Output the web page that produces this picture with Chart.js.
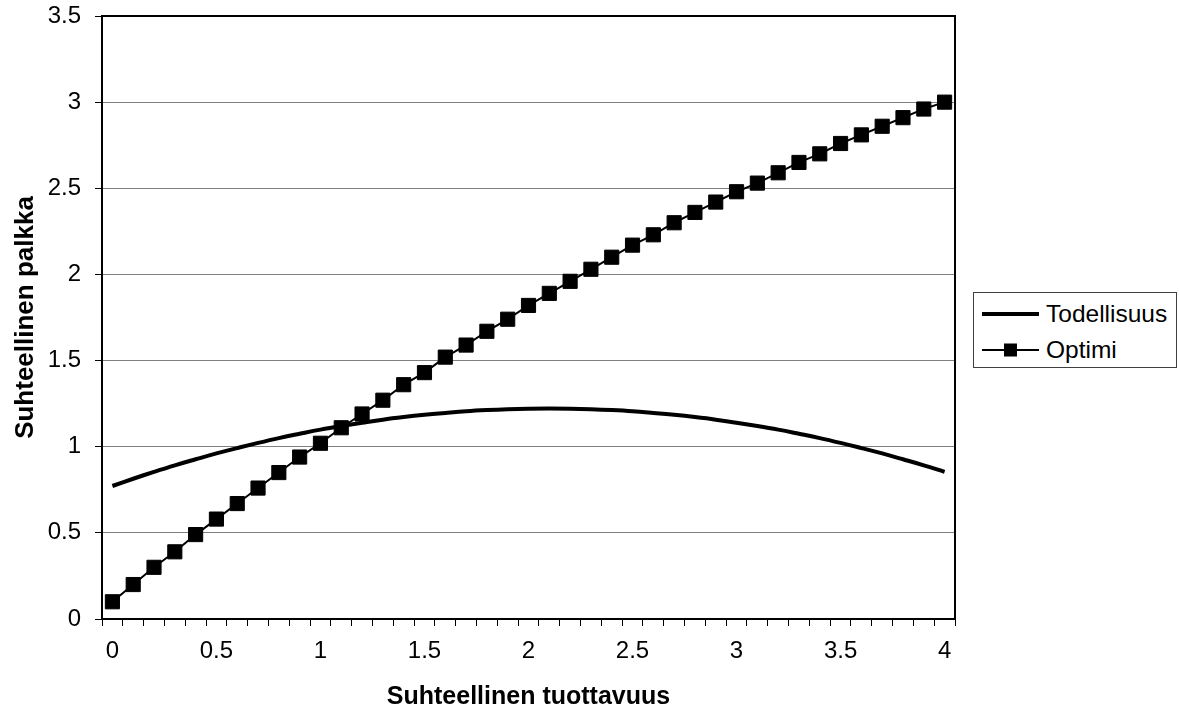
<!DOCTYPE html>
<html>
<head>
<meta charset="utf-8">
<script src="https://cdn.jsdelivr.net/npm/chart.js@4.4.1/dist/chart.umd.min.js"></script>
<style>
	body { margin: 0; background: #fff; }
	#wrap { position: relative; width: 1179px; height: 712px; }
	#legend {
		position: absolute; left: 973px; top: 292px; width: 202px; height: 74px;
		border: 1px solid #404040; background: #fff;
		font-family: 'Liberation Sans', Arial, sans-serif; font-size: 24.5px; color: #000;
	}
	#legend .row { position: absolute; left: 0; height: 30px; display: flex; align-items: center; }
	#legend svg { margin-left: 8px; margin-right: 6px; }
</style>
</head>
<body>
<div id="wrap">
	<canvas id="chart" width="1179" height="712"></canvas>
	<div id="legend">
		<div class="row" style="top:6px">
			<svg width="58" height="12"><line x1="0" y1="6" x2="57" y2="6" stroke="#000" stroke-width="4"/></svg>Todellisuus
		</div>
		<div class="row" style="top:42px">
			<svg width="58" height="16"><line x1="0" y1="8" x2="57" y2="8" stroke="#000" stroke-width="2"/><rect x="22" y="1.5" width="13" height="13" fill="#000"/></svg>Optimi
		</div>
	</div>
</div>
<script>
// data
const tuottavuus = ['0','0.1','0.2','0.3','0.4','0.5','0.6','0.7','0.8','0.9',
	'1','1.1','1.2','1.3','1.4','1.5','1.6','1.7','1.8','1.9',
	'2','2.1','2.2','2.3','2.4','2.5','2.6','2.7','2.8','2.9',
	'3','3.1','3.2','3.3','3.4','3.5','3.6','3.7','3.8','3.9','4'];

const todellisuus = [0.772, 0.814, 0.854, 0.892, 0.927, 0.961, 0.992, 1.022, 1.050, 1.075,
	1.099, 1.120, 1.139, 1.157, 1.172, 1.185, 1.196, 1.206, 1.213, 1.218,
	1.221, 1.222, 1.221, 1.218, 1.213, 1.206, 1.196, 1.185, 1.172, 1.157,
	1.139, 1.120, 1.099, 1.075, 1.050, 1.022, 0.992, 0.961, 0.927, 0.892, 0.854];

const optimi = [0.10, 0.20, 0.30, 0.39, 0.49, 0.58, 0.67, 0.76, 0.85, 0.94,
	1.02, 1.11, 1.19, 1.27, 1.36, 1.43, 1.52, 1.59, 1.67, 1.74,
	1.82, 1.89, 1.96, 2.03, 2.10, 2.17, 2.23, 2.30, 2.36, 2.42,
	2.48, 2.53, 2.59, 2.65, 2.70, 2.76, 2.81, 2.86, 2.91, 2.96, 3.00];

const yTicks = [0, 0.5, 1, 1.5, 2, 2.5, 3, 3.5];

Chart.defaults.font.family = "'Liberation Sans', Arial, sans-serif";
Chart.defaults.color = '#000';

// black frame round the plot area
const plotFrame = {
	id: 'plotFrame',
	beforeDatasetsDraw(chart) {
		const a = chart.chartArea;
		const ctx = chart.ctx;
		ctx.save();
		ctx.strokeStyle = '#000';
		ctx.lineWidth = 2;
		ctx.strokeRect(a.left, a.top, a.right - a.left, a.bottom - a.top);
		ctx.restore();
	}
};

const ctx = document.getElementById('chart').getContext('2d');
let myChart = new Chart(ctx, {
	type: 'line',
	data: {
		labels: tuottavuus,
		datasets: [{
			label: 'Todellisuus',
			data: todellisuus,
			borderColor: '#000',
			borderWidth: 4,
			pointRadius: 0,
			tension: 0.4,
			order: 2
		}, {
			label: 'Optimi',
			data: optimi,
			borderColor: '#000',
			backgroundColor: '#000',
			borderWidth: 2,
			pointStyle: 'rect',
			pointRadius: 10,
			pointBorderWidth: 1,
			pointBackgroundColor: '#000',
			pointBorderColor: '#000',
			tension: 0,
			order: 1
		}]
	},
	options: {
		responsive: false,
		animation: false,
		devicePixelRatio: 1,
		layout: { padding: { top: 16, right: 224, bottom: 0, left: 0 } },
		plugins: {
			legend: { display: false },
			tooltip: { enabled: false }
		},
		scales: {
			x: {
				type: 'category',
				offset: true,
				grid: {
					offset: true,
					drawOnChartArea: false,
					tickLength: 7,
					tickColor: '#000',
					tickWidth: 1
				},
				border: { color: '#000', width: 2 },
				ticks: {
					autoSkip: false,
					maxRotation: 0,
					padding: 11,
					font: { size: 24 },
					callback: function (val, i) { return i % 5 === 0 ? tuottavuus[i] : ''; }
				},
				title: {
					display: true,
					text: 'Suhteellinen tuottavuus',
					font: { size: 25, weight: 'bold' },
					padding: { top: 0, bottom: 0 }
				},
				afterFit(scale) {
					scale.height = 93;
					scale.paddingLeft = 0;
					scale.paddingRight = 0;
				}
			},
			y: {
				min: 0,
				max: 3.5,
				afterBuildTicks(scale) { scale.ticks = yTicks.map(v => ({ value: v })); },
				grid: {
					color: '#808080',
					lineWidth: 1,
					tickLength: 7,
					tickColor: '#000',
					tickWidth: 1
				},
				border: { color: '#000', width: 2 },
				ticks: {
					padding: 14,
					font: { size: 24 },
					callback: v => String(v)
				},
				title: {
					display: true,
					text: 'Suhteellinen palkka',
					font: { size: 26, weight: 'bold' },
					padding: { top: 10, bottom: 0 }
				},
				afterFit(scale) {
					scale.width = 102;
					scale.paddingTop = 0;
					scale.paddingBottom = 0;
				}
			}
		}
	},
	plugins: [plotFrame]
});
</script>
</body>
</html>
